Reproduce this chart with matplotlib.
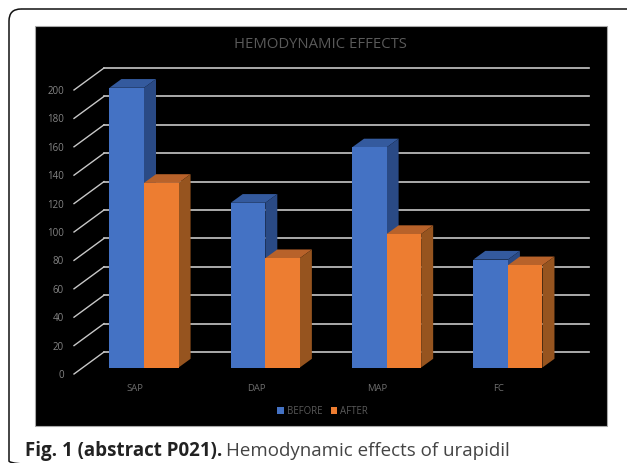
import matplotlib
matplotlib.use('Agg')
import matplotlib.pyplot as plt
from matplotlib.patches import FancyBboxPatch, Polygon, Rectangle

plt.rcParams['font.family'] = ['Open Sans', 'DejaVu Sans']

categories = ['SAP', 'DAP', 'MAP', 'FC']
before = [197, 116, 155, 76]
after = [130, 77, 94, 72]
y_ticks = [0, 20, 40, 60, 80, 100, 120, 140, 160, 180, 200]

W, H = 627, 463
blue = ['#4472C4', '#345A9E', '#2A4A85']
orange = ['#ED7D31', '#B8622A', '#96541F']
bar_w = 0.285

# pixel scale of the front plane
sx = 121.3
sy = 1.42
# bar depth and gridline depth, in data units
dx, dy = 12 / sx, 8.7 / sy
gx, gy = 30 / sx, 15.5 / sy
drop = 6.5 / sy

fig = plt.figure(figsize=(W / 100, H / 100), dpi=100, facecolor='white')

# page furniture, in pixels
bg = fig.add_axes([0, 0, 1, 1])
bg.set_xlim(0, W)
bg.set_ylim(H, 0)
bg.axis('off')
bg.add_patch(FancyBboxPatch((9, 9), 660, 464, boxstyle='round,pad=0,rounding_size=12',
                            fc='none', ec='#111111', lw=1.1))
bg.add_patch(Rectangle((34.5, 26), 572.5, 400, fc='black', ec='#a8a8a8', lw=0.8))
bg.text(320.5, 44, 'HEMODYNAMIC EFFECTS', color='#5a5a5a', fontsize=10.7,
        ha='center', va='center')
cap = bg.text(25, 456, 'Fig. 1 (abstract P021).', color='#222222', fontsize=13.5,
              fontweight='bold', ha='left', va='baseline')
fig.canvas.draw()
bg.text(cap.get_window_extent().x1 + 4, 456, 'Hemodynamic effects of urapidil', color='#444444',
        fontsize=13.5, ha='left', va='baseline')

ax = fig.add_axes([74 / W, (H - 367.5) / H, 515 / W, 284 / H])
ax.patch.set_alpha(0)
ax.axis('off')
xl = (74 - 144) / sx
xr = (589 - 144) / sx
ax.set_xlim(xl, xr)
ax.set_ylim(0, 200)

for t in y_ticks:
    ax.plot([xl, xl + gx], [t - drop, t + gy], color='#c8c8c8', lw=1.0, clip_on=False, zorder=1)
    ax.plot([xl + gx, xr], [t + gy, t + gy], color='#c8c8c8', lw=1.2, clip_on=False, zorder=1)
    ax.annotate(str(t), (xl, t), xytext=(-10, -8), textcoords='offset pixels',
                color='#858585', fontsize=7, ha='right', va='center')


def bar3d(x, h, colors, z):
    ax.bar(x, h, bar_w, align='edge', color=colors[0], zorder=z + 0.2, clip_on=False)
    top = [(x, h), (x + bar_w, h), (x + bar_w + dx, h + dy), (x + dx, h + dy)]
    side = [(x + bar_w, 0), (x + bar_w + dx, dy), (x + bar_w + dx, h + dy), (x + bar_w, h)]
    ax.add_patch(Polygon(top, fc=colors[1], ec='none', zorder=z, clip_on=False))
    ax.add_patch(Polygon(side, fc=colors[2], ec='none', zorder=z, clip_on=False))


for i, name in enumerate(categories):
    bar3d(i - bar_w, before[i], blue, 2)
    bar3d(i, after[i], orange, 3)
    ax.annotate(name, (i, 0), xytext=(-9, -21), textcoords='offset pixels',
                color='#6e6e6e', fontsize=6.8, ha='center', va='center')

handles = [Rectangle((0, 0), 1, 1, fc=blue[0]), Rectangle((0, 0), 1, 1, fc=orange[0])]
fig.legend(handles, ['BEFORE', 'AFTER'], loc='center', bbox_to_anchor=(322.5 / W, (H - 411) / H),
           ncol=2, frameon=False, fontsize=6.9, labelcolor='#5a5a5a', handlelength=0.7,
           handleheight=0.7, handletextpad=0.25, columnspacing=0.9)

fig.savefig('out.png', dpi=100, facecolor='white')
